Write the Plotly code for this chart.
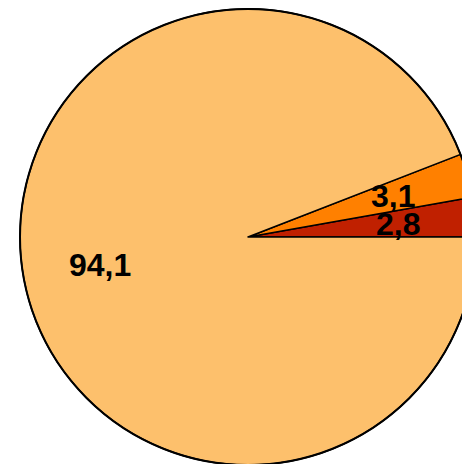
import math
import plotly.graph_objects as go

labels = ["2,8", "3,1", "94,1"]
values = [2.8, 3.1, 94.1]
colors = ["#C02000", "#FF8000", "#FDC06C"]

W, H = 496, 474
cx, cy, r = 248, 237, 228

total = sum(values)

fig = go.Figure(go.Pie(
    values=values,
    labels=labels,
    sort=False,
    direction="counterclockwise",
    rotation=90 - 360 * values[0] / total,
    marker=dict(colors=colors, line=dict(color="black", width=1.5)),
    textinfo="none",
    hoverinfo="none",
    showlegend=False,
    domain=dict(x=[(cx - r) / W, (cx + r) / W], y=[1 - (cy + r) / H, 1 - (cy - r) / H]),
))

# outer border
fig.add_shape(type="circle", xref="paper", yref="paper",
              x0=(cx - r) / W, x1=(cx + r) / W,
              y0=1 - (cy + r) / H, y1=1 - (cy - r) / H,
              line=dict(color="black", width=2))

start = 0.0
for lab, v in zip(labels, values):
    mid = (start + v / 2) / total * 2 * math.pi
    start += v
    px = cx + 0.66 * r * math.cos(mid)
    py = cy - 0.66 * r * math.sin(mid)
    fig.add_annotation(x=px / W, y=1 - py / H, xref="paper", yref="paper",
                       text=f"<b>{lab}</b>", showarrow=False,
                       font=dict(family="Liberation Sans, Arial", size=32, color="black"),
                       xanchor="center", yanchor="middle")

fig.update_layout(width=W, height=H, margin=dict(l=0, r=0, t=0, b=0),
                  paper_bgcolor="white", plot_bgcolor="white", separators=",.")

fig.write_html("out.html", config={"displayModeBar": False},
               post_script="document.body.style.margin='0';document.body.style.overflow='hidden';")
